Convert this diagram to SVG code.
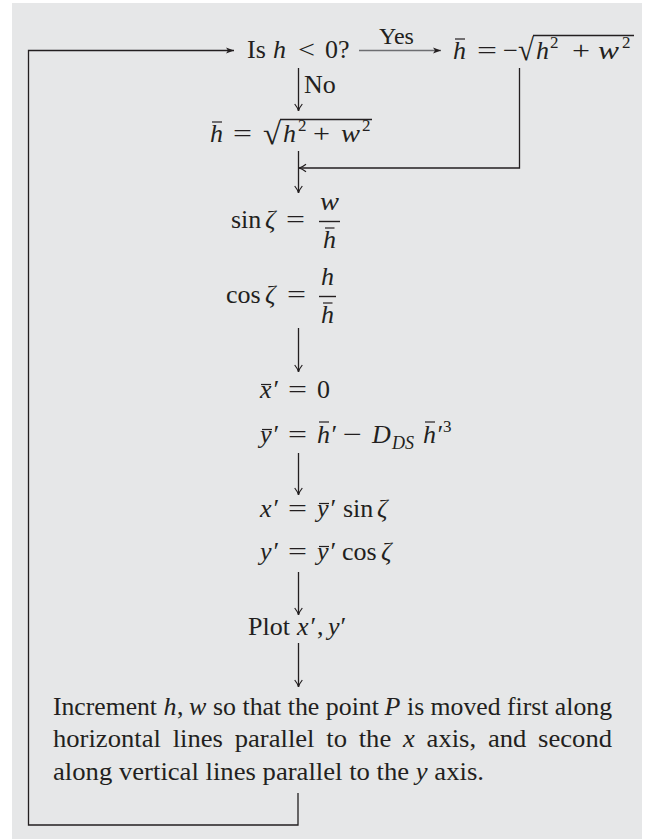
<svg xmlns="http://www.w3.org/2000/svg" width="646" height="839" viewBox="0 0 646 839">
<style>
.t{font-family:"Liberation Serif","Times New Roman",serif;font-size:26px;fill:#231f20}
.i{font-style:italic}
.s{font-size:17px}
.p{font-size:26px}
.r{font-size:31px}
.ln{stroke:#231f20;stroke-width:1.3;fill:none}
.bar{stroke:#231f20;stroke-width:1.2}
.vin{stroke:#231f20;stroke-width:1.4}
</style>
<defs>
<marker id="open" markerUnits="userSpaceOnUse" viewBox="-10 -6 12 12" markerWidth="12" markerHeight="12" refX="0" refY="0" orient="auto" overflow="visible">
<path d="M -7 -3.8 Q -3 -0.6 0 0 Q -3 0.6 -7 3.8" fill="none" stroke="#231f20" stroke-width="1.2"/>
</marker>
<marker id="solid" markerUnits="userSpaceOnUse" viewBox="-10 -6 12 12" markerWidth="12" markerHeight="12" refX="0" refY="0" orient="auto" overflow="visible">
<path d="M -8 -3 L 0 0 L -8 3 L -6 0 Z" fill="#231f20"/>
</marker>
</defs>
<rect x="12" y="3" width="630" height="836" fill="#e6e7e8"/>

<g id="connectors">
<polyline class="ln" points="298,793 298,825 28.5,825 28.5,50.5 234,50.5" marker-end="url(#solid)"/>
<line x1="359" y1="50.5" x2="441" y2="50.5" stroke="#6d6e71" stroke-width="1.3" marker-end="url(#solid)"/>
<text class="t" x="379" y="44" style="font-size:24px">Yes</text>
<line class="ln" x1="298.5" y1="68" x2="298.5" y2="111" marker-end="url(#open)"/>
<text class="t" x="304" y="93">No</text>
<polyline class="ln" points="519.5,68 519.5,168 299,168" marker-end="url(#open)"/>
<line class="ln" x1="298.5" y1="151" x2="298.5" y2="193" marker-end="url(#open)"/>
<line class="ln" x1="298.5" y1="328" x2="298.5" y2="372" marker-end="url(#open)"/>
<line class="ln" x1="298.5" y1="453" x2="298.5" y2="495" marker-end="url(#open)"/>
<line class="ln" x1="298.5" y1="572" x2="298.5" y2="615" marker-end="url(#open)"/>
<line class="ln" x1="298.5" y1="643" x2="298.5" y2="687" marker-end="url(#open)"/>
</g>

<g id="decision">
<text class="t" x="247" y="58">Is</text>
<text class="t i" x="273" y="58">h</text>
<text class="t" x="298" y="58" textLength="17" lengthAdjust="spacingAndGlyphs">&lt;</text>
<text class="t" x="325" y="58">0?</text>
</g>

<g id="hbar-negative">
<text class="t i" x="453" y="59">h</text>
<line class="bar" x1="455" y1="39" x2="465" y2="39"/>
<text class="t" x="477" y="59" textLength="20" lengthAdjust="spacingAndGlyphs">=</text>
<text class="t" x="503" y="59" textLength="15" lengthAdjust="spacingAndGlyphs">−</text>
<text class="t r" x="518" y="60" textLength="16" lengthAdjust="spacingAndGlyphs">√</text>
<line class="vin" x1="533" y1="35.5" x2="634" y2="35.5"/>
<text class="t i" x="536" y="59">h</text>
<text class="t s" x="550" y="48">2</text>
<text class="t" x="572" y="59" textLength="18" lengthAdjust="spacingAndGlyphs">+</text>
<text class="t i" x="598" y="59" textLength="21" lengthAdjust="spacingAndGlyphs">w</text>
<text class="t s" x="622" y="48">2</text>
</g>

<g id="hbar-positive">
<text class="t i" x="210" y="142">h</text>
<line class="bar" x1="212" y1="122" x2="222" y2="122"/>
<text class="t" x="233" y="142" textLength="19" lengthAdjust="spacingAndGlyphs">=</text>
<text class="t r" x="263" y="144" textLength="18" lengthAdjust="spacingAndGlyphs">√</text>
<line class="vin" x1="280" y1="119.5" x2="372" y2="119.5"/>
<text class="t i" x="283" y="142">h</text>
<text class="t s" x="298" y="131">2</text>
<text class="t" x="313" y="142" textLength="17" lengthAdjust="spacingAndGlyphs">+</text>
<text class="t i" x="341" y="142" textLength="19" lengthAdjust="spacingAndGlyphs">w</text>
<text class="t s" x="362" y="131">2</text>
</g>

<g id="sin-zeta">
<text class="t" x="231" y="228">sin</text>
<text class="t i" x="265" y="228">ζ</text>
<text class="t" x="286" y="228" textLength="19" lengthAdjust="spacingAndGlyphs">=</text>
<line class="vin" x1="319" y1="221.5" x2="340" y2="221.5"/>
<text class="t i" x="320" y="210" textLength="19" lengthAdjust="spacingAndGlyphs">w</text>
<text class="t i" x="323" y="248">h</text>
<line class="bar" x1="325" y1="228" x2="334.5" y2="228"/>
</g>

<g id="cos-zeta">
<text class="t" x="226" y="303">cos</text>
<text class="t i" x="265" y="303">ζ</text>
<text class="t" x="287" y="303" textLength="19" lengthAdjust="spacingAndGlyphs">=</text>
<line class="vin" x1="319" y1="296.5" x2="336" y2="296.5"/>
<text class="t i" x="321" y="285">h</text>
<text class="t i" x="321" y="323">h</text>
<line class="bar" x1="323" y1="303" x2="332.5" y2="303"/>
</g>

<g id="bar-coords">
<text class="t i" x="260" y="398">x</text>
<line class="bar" x1="261" y1="384.5" x2="271" y2="384.5"/>
<text class="t i" x="272" y="398">′</text>
<text class="t" x="288" y="398" textLength="19" lengthAdjust="spacingAndGlyphs">=</text>
<text class="t" x="317" y="398">0</text>

<text class="t i" x="260" y="443">y</text>
<line class="bar" x1="262" y1="429.5" x2="272" y2="429.5"/>
<text class="t i" x="272" y="443">′</text>
<text class="t" x="288" y="443" textLength="19" lengthAdjust="spacingAndGlyphs">=</text>
<text class="t i" x="317" y="443">h</text>
<line class="bar" x1="319" y1="422" x2="329" y2="422"/>
<text class="t i" x="330" y="443">′</text>
<text class="t" x="343" y="443" textLength="19" lengthAdjust="spacingAndGlyphs">−</text>
<text class="t i" x="372" y="443">D</text>
<text class="t i" x="392" y="449" style="font-size:18px">DS</text>
<text class="t i" x="423" y="443">h</text>
<line class="bar" x1="425" y1="422" x2="435" y2="422"/>
<text class="t i" x="436" y="443">′</text>
<text class="t s" x="443" y="432">3</text>
</g>

<g id="xy-prime">
<text class="t i" x="260" y="517">x</text>
<text class="t i" x="272" y="517">′</text>
<text class="t" x="288" y="517" textLength="19" lengthAdjust="spacingAndGlyphs">=</text>
<text class="t i" x="317" y="517">y</text>
<line class="bar" x1="319" y1="503.5" x2="329" y2="503.5"/>
<text class="t i" x="329" y="517">′</text>
<text class="t" x="343" y="517">sin</text>
<text class="t i" x="377" y="517">ζ</text>

<text class="t i" x="260" y="560">y</text>
<text class="t i" x="272" y="560">′</text>
<text class="t" x="288" y="560" textLength="19" lengthAdjust="spacingAndGlyphs">=</text>
<text class="t i" x="317" y="560">y</text>
<line class="bar" x1="319" y1="546.5" x2="329" y2="546.5"/>
<text class="t i" x="329" y="560">′</text>
<text class="t" x="342" y="560">cos</text>
<text class="t i" x="381" y="560">ζ</text>
</g>

<g id="plot">
<text class="t" x="248" y="635">Plot</text>
<text class="t i" x="297" y="635">x</text>
<text class="t i" x="309" y="635">′</text>
<text class="t" x="317" y="635">,</text>
<text class="t i" x="328" y="635">y</text>
<text class="t i" x="339" y="635">′</text>
</g>

<g id="increment">
<text class="t p" x="53" y="715" textLength="104" lengthAdjust="spacingAndGlyphs">Increment</text>
<text class="t p i" x="163.5" y="715">h</text>
<text class="t p" x="177" y="715">,</text>
<text class="t p i" x="189" y="715">w</text>
<text class="t p" x="213" y="715" textLength="166" lengthAdjust="spacingAndGlyphs">so that the point</text>
<text class="t p i" x="384.5" y="715">P</text>
<text class="t p" x="407" y="715" textLength="205" lengthAdjust="spacingAndGlyphs">is moved first along</text>
<text class="t p" x="53" y="747" word-spacing="5" textLength="559" lengthAdjust="spacingAndGlyphs">horizontal lines parallel to the <tspan class="i">x</tspan> axis, and second</text>
<text class="t p" x="53" y="780" textLength="431" lengthAdjust="spacingAndGlyphs">along vertical lines parallel to the <tspan class="i">y</tspan> axis.</text>
</g>
</svg>
